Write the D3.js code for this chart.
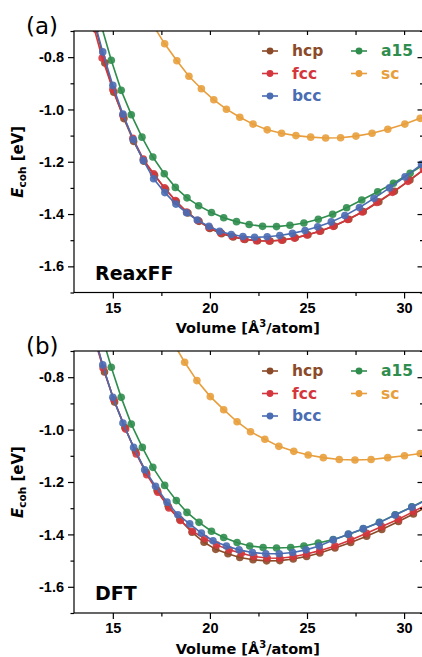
<!DOCTYPE html>
<html>
<head>
<meta charset="utf-8">
<script src="https://cdn.jsdelivr.net/npm/d3@7"></script>
<style>
  body { margin: 0; background: #fff; }
  svg { display: block; font-family: "DejaVu Sans", sans-serif; }
</style>
</head>
<body>
<div id="container"></div>
<script>
// ---- data (volume in A^3/atom, energy in eV) ----
var reaxHcpV = [14.13, 14.59, 15.05, 15.57, 16.07, 16.60, 17.15, 17.72, 18.27, 18.87, 19.44, 20.00, 20.60, 21.20, 21.80, 22.45, 23.10, 23.75, 24.40, 25.05, 25.70, 26.40, 27.15, 27.90, 28.70, 29.50, 30.30, 31.10];
var reaxHcpE = [-0.693, -0.822, -0.934, -1.035, -1.122, -1.198, -1.252, -1.305, -1.352, -1.396, -1.428, -1.455, -1.475, -1.488, -1.497, -1.502, -1.503, -1.499, -1.491, -1.479, -1.465, -1.446, -1.420, -1.390, -1.353, -1.313, -1.270, -1.225];
var reaxFccV = [14.00, 14.45, 15.00, 15.52, 16.03, 16.57, 17.10, 17.66, 18.22, 18.80, 19.38, 19.95, 20.55, 21.15, 21.75, 22.40, 23.05, 23.70, 24.35, 25.00, 25.65, 26.35, 27.10, 27.85, 28.60, 29.40, 30.20, 31.00];
var reaxFccE = [-0.680, -0.803, -0.924, -1.022, -1.110, -1.190, -1.246, -1.300, -1.348, -1.392, -1.425, -1.452, -1.472, -1.486, -1.496, -1.502, -1.503, -1.500, -1.492, -1.480, -1.466, -1.447, -1.421, -1.392, -1.356, -1.317, -1.275, -1.230];
var reaxBccV = [14.00, 14.48, 15.00, 15.52, 16.05, 16.57, 17.10, 17.68, 18.25, 18.80, 19.35, 19.95, 20.50, 21.10, 21.70, 22.30, 22.95, 23.60, 24.25, 24.90, 25.55, 26.25, 26.95, 27.70, 28.45, 29.25, 30.05, 30.90];
var reaxBccE = [-0.650, -0.780, -0.908, -1.018, -1.115, -1.195, -1.265, -1.318, -1.362, -1.395, -1.423, -1.447, -1.466, -1.478, -1.486, -1.489, -1.487, -1.482, -1.474, -1.463, -1.449, -1.430, -1.406, -1.375, -1.340, -1.300, -1.258, -1.210];
var reaxA15V = [14.43, 14.92, 15.43, 15.95, 16.50, 17.06, 17.65, 18.22, 18.82, 19.42, 20.08, 20.71, 21.37, 22.02, 22.71, 23.43, 24.12, 24.84, 25.58, 26.32, 27.04, 27.82, 28.64, 29.45, 30.31, 31.15];
var reaxA15E = [-0.685, -0.812, -0.927, -1.020, -1.106, -1.182, -1.246, -1.298, -1.338, -1.368, -1.394, -1.414, -1.429, -1.440, -1.447, -1.448, -1.443, -1.434, -1.420, -1.401, -1.376, -1.346, -1.315, -1.282, -1.244, -1.205];
var reaxScV = [17.05, 17.67, 18.30, 18.92, 19.56, 20.20, 20.85, 21.54, 22.22, 22.95, 23.69, 24.43, 25.19, 25.96, 26.73, 27.52, 28.35, 29.16, 30.04, 30.83, 31.65];
var reaxScE = [-0.675, -0.749, -0.814, -0.873, -0.921, -0.963, -0.999, -1.030, -1.056, -1.078, -1.091, -1.100, -1.106, -1.109, -1.108, -1.102, -1.091, -1.076, -1.056, -1.034, -1.010];

var dftHcpV = [14.08, 14.57, 15.09, 15.62, 16.17, 16.72, 17.28, 17.85, 18.45, 19.08, 19.70, 20.30, 20.93, 21.54, 22.22, 22.92, 23.60, 24.29, 24.98, 25.66, 26.44, 27.25, 28.07, 28.85, 29.71, 30.48, 31.30];
var dftHcpE = [-0.650, -0.780, -0.895, -0.992, -1.083, -1.163, -1.232, -1.293, -1.343, -1.392, -1.430, -1.457, -1.474, -1.488, -1.497, -1.501, -1.500, -1.494, -1.484, -1.471, -1.452, -1.431, -1.407, -1.381, -1.351, -1.322, -1.290];
var dftFccV = [14.00, 14.50, 15.05, 15.66, 16.21, 16.75, 17.32, 17.89, 18.48, 19.10, 19.73, 20.34, 20.99, 21.62, 22.26, 22.95, 23.60, 24.29, 24.98, 25.66, 26.44, 27.25, 28.07, 28.85, 29.71, 30.48, 31.30];
var dftFccE = [-0.640, -0.765, -0.885, -0.998, -1.093, -1.172, -1.239, -1.299, -1.347, -1.388, -1.416, -1.440, -1.459, -1.472, -1.484, -1.490, -1.491, -1.485, -1.475, -1.462, -1.444, -1.421, -1.396, -1.370, -1.342, -1.313, -1.282];
var dftBccV = [14.00, 14.48, 15.00, 15.52, 16.07, 16.64, 17.20, 17.79, 18.35, 18.96, 19.56, 20.16, 20.85, 21.50, 22.19, 22.88, 23.57, 24.26, 24.95, 25.63, 26.35, 27.13, 27.90, 28.73, 29.54, 30.40, 31.25];
var dftBccE = [-0.630, -0.753, -0.877, -0.975, -1.068, -1.153, -1.216, -1.277, -1.325, -1.360, -1.395, -1.424, -1.444, -1.459, -1.469, -1.474, -1.474, -1.469, -1.459, -1.444, -1.421, -1.399, -1.378, -1.355, -1.326, -1.296, -1.265];
var dftA15V = [14.43, 14.92, 15.43, 15.95, 16.52, 17.06, 17.67, 18.27, 18.82, 19.44, 20.08, 20.71, 21.40, 22.05, 22.74, 23.43, 24.16, 24.84, 25.58, 26.35, 27.13, 27.90, 28.73, 29.54, 30.40, 31.25];
var dftA15E = [-0.640, -0.762, -0.877, -0.979, -1.068, -1.144, -1.213, -1.271, -1.316, -1.354, -1.388, -1.412, -1.431, -1.444, -1.450, -1.452, -1.450, -1.444, -1.433, -1.420, -1.400, -1.379, -1.354, -1.325, -1.295, -1.263];
var dftScV = [18.08, 18.70, 19.33, 20.02, 20.71, 21.40, 22.09, 22.83, 23.55, 24.32, 25.06, 25.84, 26.66, 27.47, 28.30, 29.16, 30.02, 30.83, 31.70];
var dftScE = [-0.665, -0.743, -0.813, -0.874, -0.924, -0.970, -1.008, -1.037, -1.064, -1.083, -1.097, -1.107, -1.114, -1.116, -1.114, -1.107, -1.100, -1.091, -1.080];

var seriesNames = ["hcp", "fcc", "bcc", "a15", "sc"];
var seriesColors = ["#8b4a28", "#d3363c", "#4a6cb2", "#2f8d4e", "#e89e3c"];
var drawOrder = ["a15", "hcp", "fcc", "bcc", "sc"];

var xMajorTicks = [15, 20, 25, 30];
var xMinorTicks = [17.5, 22.5, 27.5];
var xTickLabels = ["15", "20", "25", "30"];
var yMajorTicks = [-0.8, -1.0, -1.2, -1.4, -1.6];
var yMinorTicks = [-0.7, -0.9, -1.1, -1.3, -1.5, -1.7];
var yTickLabels = ["-0.8", "-1.0", "-1.2", "-1.4", "-1.6"];

var width = 422, height = 657;
var left = 74, right = 423.5;

var svg = d3.select("#container")
  .append("svg")
  .attr("width", width)
  .attr("height", height);

function colorOf(name) {
  return seriesColors[seriesNames.indexOf(name)];
}

function drawPanel(opts) {
  var x = d3.scaleLinear().domain([13, 31]).range([left, right]);
  var y = d3.scaleLinear().domain([-1.7, -0.7]).range([opts.bottom, opts.top]);

  var g = svg.append("g");

  g.append("clipPath")
    .attr("id", opts.id + "-clip")
    .append("rect")
    .attr("x", left)
    .attr("y", opts.top)
    .attr("width", right - left)
    .attr("height", opts.bottom - opts.top);

  var plot = g.append("g").attr("clip-path", "url(#" + opts.id + "-clip)");
  var line = d3.line().x(function (d) { return x(d[0]); }).y(function (d) { return y(d[1]); });

  drawOrder.forEach(function (name) {
    var s = opts.series[name];
    var pts = d3.zip(s[0], s[1]);
    plot.append("path")
      .datum(pts)
      .attr("d", line)
      .attr("fill", "none")
      .attr("stroke", colorOf(name))
      .attr("stroke-width", 1.6);
    plot.selectAll(null)
      .data(pts)
      .enter()
      .append("circle")
      .attr("cx", function (d) { return x(d[0]); })
      .attr("cy", function (d) { return y(d[1]); })
      .attr("r", 3.8)
      .attr("fill", colorOf(name))
      .attr("fill-opacity", 0.9);
  });

  // ticks: out on left/bottom, in on top/right
  var axisStyle = function (sel) {
    sel.select(".domain").remove();
    sel.selectAll("line").attr("stroke", "#000").attr("stroke-width", 1.2);
    sel.selectAll("text").attr("fill", "#000").attr("font-weight", "bold").attr("font-size", "14.5px");
  };

  g.append("g").attr("transform", "translate(" + left + ",0)")
    .call(d3.axisLeft(y).tickValues(yMajorTicks).tickSize(6).tickPadding(4)
      .tickFormat(function (d, i) { return yTickLabels[i]; }))
    .call(axisStyle);
  g.append("g").attr("transform", "translate(" + left + ",0)")
    .call(d3.axisLeft(y).tickValues(yMinorTicks).tickSize(3.5).tickFormat(""))
    .call(axisStyle);
  g.append("g").attr("transform", "translate(0," + opts.bottom + ")")
    .call(d3.axisBottom(x).tickValues(xMajorTicks).tickSize(6).tickPadding(4)
      .tickFormat(function (d, i) { return xTickLabels[i]; }))
    .call(axisStyle);
  g.append("g").attr("transform", "translate(0," + opts.bottom + ")")
    .call(d3.axisBottom(x).tickValues(xMinorTicks).tickSize(3.5).tickFormat(""))
    .call(axisStyle);
  g.append("g").attr("transform", "translate(0," + opts.top + ")")
    .call(d3.axisBottom(x).tickValues(xMajorTicks.concat(xMinorTicks)).tickSize(4).tickFormat(""))
    .call(axisStyle);
  g.append("g").attr("transform", "translate(" + right + ",0)")
    .call(d3.axisLeft(y).tickValues(yMajorTicks).tickSize(6).tickFormat(""))
    .call(axisStyle);
  g.append("g").attr("transform", "translate(" + right + ",0)")
    .call(d3.axisLeft(y).tickValues(yMinorTicks).tickSize(3.5).tickFormat(""))
    .call(axisStyle);

  g.append("rect")
    .attr("x", left)
    .attr("y", opts.top)
    .attr("width", right - left)
    .attr("height", opts.bottom - opts.top)
    .attr("fill", "none")
    .attr("stroke", "#000")
    .attr("stroke-width", 1.2);

  // panel tag and method name
  g.append("text")
    .attr("x", 26)
    .attr("y", opts.top + 3)
    .attr("font-size", "23px")
    .text(opts.tag);
  g.append("text")
    .attr("x", 95)
    .attr("y", opts.bottom - 13)
    .attr("font-size", "19px")
    .attr("font-weight", "bold")
    .text(opts.name);

  // y label
  var yl = g.append("text")
    .attr("transform", "translate(23," + ((opts.top + opts.bottom) / 2) + ") rotate(-90)")
    .attr("text-anchor", "middle")
    .attr("font-size", "15px")
    .attr("font-weight", "bold");
  yl.append("tspan").attr("font-style", "italic").text("E");
  yl.append("tspan").attr("font-size", "10.5px").attr("dy", "3").text("coh");
  yl.append("tspan").attr("dy", "-3").text(" [eV]");

  // x label
  var xl = g.append("text")
    .attr("x", (left + right) / 2 - 1)
    .attr("y", opts.bottom + 40.5)
    .attr("text-anchor", "middle")
    .attr("font-size", "14.5px")
    .attr("font-weight", "bold");
  xl.append("tspan").text("Volume [Å");
  xl.append("tspan").attr("font-size", "10px").attr("dy", "-6").text("3");
  xl.append("tspan").attr("dy", "6").text("/atom]");

  // legend, two columns
  var legendPos = [[270, 20], [270, 42.5], [270, 65], [359, 20], [359, 42.5]];
  seriesNames.forEach(function (name, i) {
    var cx = legendPos[i][0], cy = opts.top + legendPos[i][1];
    g.append("line")
      .attr("x1", cx - 8).attr("x2", cx + 8)
      .attr("y1", cy).attr("y2", cy)
      .attr("stroke", colorOf(name))
      .attr("stroke-width", 1.6);
    g.append("circle")
      .attr("cx", cx).attr("cy", cy).attr("r", 3.4)
      .attr("fill", colorOf(name));
    g.append("text")
      .attr("x", cx + 22)
      .attr("y", cy)
      .attr("dy", "0.35em")
      .attr("font-size", "15.5px")
      .attr("font-weight", "bold")
      .attr("fill", colorOf(name))
      .text(name);
  });
}

drawPanel({
  id: "reax", top: 31, bottom: 292.5, tag: "(a)", name: "ReaxFF",
  series: {
    hcp: [reaxHcpV, reaxHcpE], fcc: [reaxFccV, reaxFccE], bcc: [reaxBccV, reaxBccE],
    a15: [reaxA15V, reaxA15E], sc: [reaxScV, reaxScE]
  }
});

drawPanel({
  id: "dft", top: 351, bottom: 613, tag: "(b)", name: "DFT",
  series: {
    hcp: [dftHcpV, dftHcpE], fcc: [dftFccV, dftFccE], bcc: [dftBccV, dftBccE],
    a15: [dftA15V, dftA15E], sc: [dftScV, dftScE]
  }
});
</script>
</body>
</html>
